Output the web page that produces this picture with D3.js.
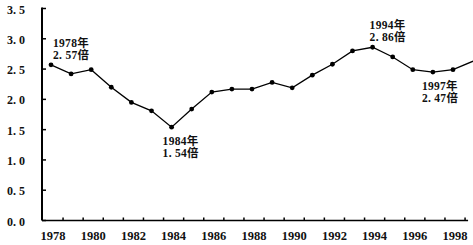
<!DOCTYPE html>
<html>
<head>
<meta charset="utf-8">
<script src="https://d3js.org/d3.v7.min.js"></script>
<style>
  body { margin: 0; background: #fff; }
  text { font-family: "Liberation Serif", "Noto Sans CJK SC", serif; font-weight: bold; fill: #111; }
</style>
</head>
<body>
<div id="chart"></div>
<script>
// years and ratio values
var years = [1978,1979,1980,1981,1982,1983,1984,1985,1986,1987,1988,1989,1990,1991,1992,1993,1994,1995,1996,1997,1998,1999];
var ratios = [2.57,2.42,2.49,2.20,1.95,1.81,1.54,1.84,2.12,2.17,2.17,2.28,2.19,2.40,2.58,2.80,2.86,2.70,2.49,2.45,2.49,2.63];
var yTicks = [0,0.5,1.0,1.5,2.0,2.5,3.0,3.5];
var xLabels = [1978,1980,1982,1984,1986,1988,1990,1992,1994,1996,1998];
var notes = [
  {year: 1978, l1: "1978年", l2: "2. 57倍"},
  {year: 1984, l1: "1984年", l2: "1. 54倍"},
  {year: 1994, l1: "1994年", l2: "2. 86倍"},
  {year: 1997, l1: "1997年", l2: "2. 47倍"}
];

var width = 473, height = 245;
var svg = d3.select("#chart").append("svg")
  .attr("width", width)
  .attr("height", height);

var x = d3.scaleLinear().domain([1978, 1998]).range([51, 453]);
var y = d3.scaleLinear().domain([0, 3.5]).range([220.5, 8.5]);
var x0 = 42;

var data = years.map(function(d, i) { return {year: d, v: ratios[i]}; });

// y axis
svg.append("line")
  .attr("x1", x0).attr("x2", x0)
  .attr("y1", y(3.5) - 1).attr("y2", y(0))
  .attr("stroke", "#000").attr("stroke-width", 2);
svg.selectAll(".ytick").data(yTicks).enter().append("line")
  .attr("x1", x0).attr("x2", x0 + 4)
  .attr("y1", function(d) { return y(d); })
  .attr("y2", function(d) { return y(d); })
  .attr("stroke", "#000").attr("stroke-width", 1.5);
svg.selectAll(".ylab").data(yTicks).enter().append("text")
  .attr("x", 25)
  .attr("y", function(d) { return y(d) + 5; })
  .attr("text-anchor", "end")
  .style("font-size", "12px")
  .text(function(d) { return d.toFixed(1).replace(".", ". "); });

// x axis
svg.append("line")
  .attr("x1", x0).attr("x2", x(1998.75))
  .attr("y1", y(0)).attr("y2", y(0))
  .attr("stroke", "#000").attr("stroke-width", 1.6);
svg.selectAll(".xtick").data(years.slice(0, 21)).enter().append("line")
  .attr("x1", function(d) { return x(d + 0.6); })
  .attr("x2", function(d) { return x(d + 0.6); })
  .attr("y1", y(0)).attr("y2", y(0) - 3)
  .attr("stroke", "#000").attr("stroke-width", 1.5);
svg.selectAll(".xlab").data(xLabels).enter().append("text")
  .attr("x", function(d) { return x(d) + 2; })
  .attr("y", 240)
  .attr("text-anchor", "middle")
  .style("font-size", "12.5px")
  .text(function(d) { return d; });

// line and markers
var line = d3.line()
  .x(function(d) { return x(d.year); })
  .y(function(d) { return y(d.v); });
svg.append("path")
  .datum(data)
  .attr("fill", "none")
  .attr("stroke", "#000")
  .attr("stroke-width", 1.3)
  .attr("d", line);
svg.selectAll(".pt").data(data.filter(function(d) { return d.year <= 1998; })).enter().append("circle")
  .attr("cx", function(d) { return x(d.year); })
  .attr("cy", function(d) { return y(d.v); })
  .attr("r", 2.4)
  .attr("fill", "#000");

// annotations
var pos = {
  1978: {dx: 2, y1: 47, y2: 59},
  1984: {dx: -9, y1: 145, y2: 157},
  1994: {dx: -3, y1: 29, y2: 41},
  1997: {dx: -11, y1: 90, y2: 102}
};
notes.forEach(function(n) {
  var p = pos[n.year];
  svg.append("text")
    .attr("x", x(n.year) + p.dx).attr("y", p.y1)
    .style("font-size", "11.5px")
    .style("letter-spacing", "0.3px")
    .text(n.l1);
  svg.append("text")
    .attr("x", x(n.year) + p.dx).attr("y", p.y2)
    .style("font-size", "11.5px")
    .style("letter-spacing", "0.3px")
    .text(n.l2);
});
</script>
</body>
</html>
